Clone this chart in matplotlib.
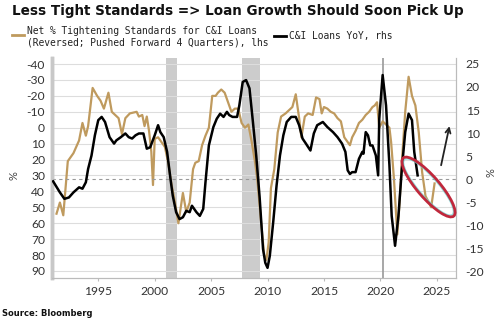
import matplotlib
matplotlib.use("Agg")
import matplotlib.pyplot as plt
from matplotlib.patches import Ellipse
from matplotlib.lines import Line2D

# ---------------- data ----------------
gold_years = [1991.3, 1991.6, 1991.9, 1992.3, 1992.8, 1993.3, 1993.6, 1993.9, 1994.1, 1994.5,
              1994.9, 1995.2, 1995.5, 1995.9, 1996.2, 1996.5, 1996.8, 1997.1, 1997.4, 1997.8,
              1998.4, 1998.6, 1998.9, 1999.1, 1999.3, 1999.5, 1999.7, 1999.85, 2000.0, 2000.3,
              2000.6, 2000.9, 2001.2, 2001.5, 2001.8, 2002.1, 2002.5, 2002.8, 2003.1, 2003.4,
              2003.6, 2003.9, 2004.2, 2004.5, 2004.8, 2005.1, 2005.4, 2005.6, 2005.9, 2006.2,
              2006.5, 2006.8, 2007.1, 2007.4, 2007.7, 2008.0, 2008.3, 2008.6, 2008.9, 2009.1,
              2009.4, 2009.7, 2009.9, 2010.1, 2010.3, 2010.6, 2010.9, 2011.2, 2011.6, 2011.9,
              2012.2, 2012.5, 2012.8, 2013.0, 2013.3, 2013.6, 2014.0, 2014.3, 2014.6, 2014.8,
              2015.0, 2015.3, 2015.6, 2015.9, 2016.2, 2016.5, 2016.8, 2017.1, 2017.3, 2017.5,
              2017.8, 2018.1, 2018.4, 2018.7, 2019.0, 2019.3, 2019.5, 2019.7, 2019.9, 2020.2,
              2020.5, 2020.8, 2020.95, 2021.2, 2021.5, 2021.7, 2021.9, 2022.2, 2022.5, 2022.8,
              2023.1, 2023.4, 2023.7, 2024.0, 2024.3, 2024.5, 2024.8]
gold_vals = [54, 47, 55, 21, 16, 8, -3, 5, -1, -25,
             -20, -17, -12, -22, -10, -8, -6, 4, -6, -9,
             -10, -7, -8, -1, -7, 2, 15, 36, 7, 6,
             9, 12, 22, 36, 47, 60, 41, 53, 47, 26,
             22, 21, 11, 5, 0, -20, -20, -22, -24, -22,
             -16, -10, -12, -12, -3, 0, -2, 9, 22, 33,
             57, 80, 83, 72, 38, 26, 3, -7, -9, -11,
             -13, -21, -6, 6, -7, -9, -8, -19, -18, -9,
             -13, -12, -10, -9, -6, -4, 6, 9, 11, 6,
             2, -3, -5, -8, -10, -13, -14, -16, 0, -4,
             -2, 0, 9, 32, 67, 47, 22, -10, -32, -20,
             -14, 3, 28, 43, 47, 50, 35]

black_years = [1991.0, 1991.4, 1991.6, 1992.0, 1992.4, 1992.8, 1993.3, 1993.6, 1993.9, 1994.1,
               1994.4, 1994.7, 1995.0, 1995.3, 1995.6, 1996.0, 1996.4, 1996.6, 1997.0, 1997.4,
               1997.7, 1998.0, 1998.3, 1998.6, 1999.0, 1999.3, 1999.6, 2000.0, 2000.3, 2000.5,
               2000.8, 2001.1, 2001.4, 2001.6, 2001.9, 2002.2, 2002.5, 2002.8, 2003.1, 2003.3,
               2003.7, 2004.0, 2004.3, 2004.5, 2004.8, 2005.2, 2005.5, 2005.8, 2006.1, 2006.4,
               2006.6, 2006.9, 2007.3, 2007.5, 2007.8, 2008.1, 2008.4, 2008.7, 2009.0, 2009.3,
               2009.6, 2009.8, 2010.0, 2010.2, 2010.5, 2010.8, 2011.1, 2011.4, 2011.7, 2012.1,
               2012.5, 2012.8, 2013.1, 2013.4, 2013.8, 2014.1, 2014.4, 2014.9, 2015.3, 2015.8,
               2016.2, 2016.6, 2016.9, 2017.1, 2017.3, 2017.5, 2017.8, 2018.1, 2018.4, 2018.5,
               2018.7, 2018.9, 2019.1, 2019.3, 2019.6, 2019.8, 2019.9, 2020.2, 2020.5, 2020.8,
               2021.0, 2021.3, 2021.6, 2021.9, 2022.2, 2022.5, 2022.8, 2023.0, 2023.3]
black_vals = [-0.5, -2.1, -2.9, -4.3, -4.0, -2.9, -1.8, -2.1, -0.7, 2.2,
              5.1, 9.5, 12.8, 13.5, 12.4, 9.1, 7.7, 8.4, 9.1, 9.9,
              9.1, 8.8, 9.5, 9.9, 9.9, 6.6, 6.9, 9.5, 11.7, 10.2,
              9.1, 5.9, 0.0, -3.6, -7.2, -8.7, -8.3, -6.9, -7.2, -5.8,
              -7.2, -8.0, -6.5, -0.7, 7.3, 11.3, 13.1, 14.2, 13.5, 14.6,
              13.9, 13.5, 13.5, 16.0, 21.1, 21.5, 19.7, 12.5, 5.0, -4.0,
              -15.2, -18.2, -19.3, -16.7, -9.4, -1.4, 5.1, 9.5, 12.4, 13.5,
              13.5, 11.7, 8.8, 7.7, 6.2, 9.9, 11.7, 12.4, 11.3, 10.2,
              9.1, 7.7, 5.9, 1.9, 1.1, 1.5, 1.5, 4.4, 5.9, 5.5,
              10.2, 9.5, 7.3, 7.3, 5.1, 0.8, 13.1, 22.6, 16.0, 3.0,
              -8.0, -14.5, -8.0, 2.2, 10.2, 14.2, 12.8, 5.9, 0.8]

left_ticks = [-40, -30, -20, -10, 0, 10, 20, 30, 40, 50, 60, 70, 80, 90]
right_ticks = [25, 20, 15, 10, 5, 0, -5, -10, -15, -20]
x_ticks = [1995, 2000, 2005, 2010, 2015, 2020, 2025]
recessions = [(2001.0, 2001.95), (2007.71, 2009.35)]
covid_recession = 2020.2

title = "Less Tight Standards => Loan Growth Should Soon Pick Up"
gold_label = "Net % Tightening Standards for C&I Loans\n(Reversed; Pushed Forward 4 Quarters), lhs"
black_label = "C&I Loans YoY, rhs"
source = "Source: Bloomberg"

GOLD = "#bf9a5e"
W, H = 500, 322

fig = plt.figure(figsize=(W / 100, H / 100), dpi=100)
fig.patch.set_facecolor("white")
ax = fig.add_axes([52 / W, 44 / H, 404 / W, 220 / H])
ax2 = ax.twinx()

tick_font = dict(family="Lato", size=8.7)

# left axis (reversed)
ax.set_xlim(1990.9, 2026.7)
ax.set_ylim(94.4, -43.8)
ax.set_yticks(left_ticks)
ax.set_yticklabels([("-" + str(-v)) if v < 0 else str(v) for v in left_ticks], **tick_font, color="#333333")
ax.set_xticks(x_ticks)
ax.set_xticklabels([str(v) for v in x_ticks], **tick_font, color="#333333")
ax.grid(axis="y", color="#dddddd", lw=0.8)
ax.set_axisbelow(True)
ax.tick_params(axis="y", length=0, pad=5)
ax.tick_params(axis="x", length=2, color="#bbbbbb", pad=4)

for a, b in recessions:
    ax.axvspan(a, b, color="#cccccc", lw=0, zorder=0.5)
ax.axvline(covid_recession, color="#a0a0a0", lw=1.3, zorder=0.6)

ax.plot(gold_years, gold_vals, color=GOLD, lw=1.6, zorder=2)

# right axis
ax2.set_ylim(-21.5, 26.3)
ax2.set_yticks(right_ticks)
ax2.set_yticklabels([("-" + str(-v)) if v < 0 else str(v) for v in right_ticks], **tick_font, color="#333333")
ax2.tick_params(axis="y", length=0, pad=7)
ax2.axhline(0, color="#999999", lw=0.8, ls=(0, (3, 3)), zorder=1)
ax2.plot(black_years, black_vals, color="black", lw=1.8, zorder=3)

for a_ in (ax, ax2):
    a_.spines["top"].set_visible(False)
    a_.spines["left"].set_color("#c8c8c8")
    a_.spines["left"].set_linewidth(2.5)
    a_.spines["right"].set_color("#bbbbbb")
    a_.spines["right"].set_linewidth(0.8)
    a_.spines["bottom"].set_color("#bbbbbb")
    a_.spines["bottom"].set_linewidth(0.8)

# arrow
ax2.annotate("", xy=(2026.12, 11.5), xytext=(2025.38, 3.0),
             arrowprops=dict(arrowstyle="->", color="#222222", lw=1.3,
                             mutation_scale=9, shrinkA=0, shrinkB=0))

# ellipse highlight (in inches)
cx, cy = 4.285, (H - 187) / 100
fig.add_artist(Ellipse((cx, cy), 0.73, 0.19, angle=-49, transform=fig.dpi_scale_trans,
                       fill=False, ec="#6fd3d0", lw=1.0, alpha=0.8))
fig.add_artist(Ellipse((cx, cy), 0.77, 0.22, angle=-49, transform=fig.dpi_scale_trans,
                       fill=False, ec="#c0283c", lw=2.0))

# % labels
fig.text(14 / W, 1 - 176 / H, "%", rotation=90, ha="center", va="center",
         fontsize=8, color="#444444", family="Lato")
fig.text(491 / W, 1 - 173 / H, "%", rotation=90, ha="center", va="center",
         fontsize=8, color="#444444", family="Lato")

# title
fig.text(12 / W, 1 - 11 / H, title, ha="left", va="center", fontsize=9.75,
         fontweight="bold", color="#111111", family="DejaVu Sans")

# legend
fig.add_artist(Line2D([12 / W, 24 / W], [1 - 35 / H, 1 - 35 / H], color=GOLD, lw=2,
                      transform=fig.transFigure))
fig.text(27 / W, 1 - 36.5 / H, gold_label, ha="left", va="center", fontsize=6.9,
         family="DejaVu Sans Mono", color="#222222", linespacing=1.25)
fig.add_artist(Line2D([274 / W, 286 / W], [1 - 36 / H, 1 - 36 / H], color="black", lw=2,
                      transform=fig.transFigure))
fig.text(289 / W, 1 - 36 / H, black_label, ha="left", va="center", fontsize=6.9,
         family="DejaVu Sans Mono", color="#222222")

# source
fig.text(2 / W, 1 - 313 / H, source, ha="left", va="center", fontsize=6,
         fontweight="bold", color="#111111", family="DejaVu Sans")

fig.savefig("out.png", dpi=100)
